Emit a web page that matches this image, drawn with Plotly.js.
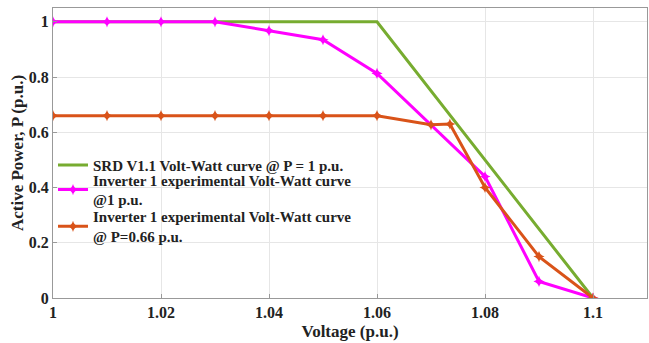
<!DOCTYPE html>
<html><head><meta charset="utf-8">
<script src="https://cdn.plot.ly/plotly-3.0.1.min.js"></script>
<style>body{margin:0;background:#fff}#chart{width:649px;height:343px}</style>
</head><body><div id="chart"></div>
<script>
const srdX = [1, 1.06, 1.1];
const srdY = [1, 1, 0];
const inv1X = [1, 1.01, 1.02, 1.03, 1.04, 1.05, 1.06, 1.08, 1.09, 1.1];
const inv1Y = [1, 1, 1, 1, 0.968, 0.935, 0.813, 0.44, 0.06, 0];
const inv066X = [1, 1.01, 1.02, 1.03, 1.04, 1.05, 1.06, 1.07, 1.0735, 1.08, 1.09, 1.1];
const inv066Y = [0.66, 0.66, 0.66, 0.66, 0.66, 0.66, 0.66, 0.627, 0.63, 0.40, 0.15, 0];
const names = [
  "SRD V1.1 Volt-Watt curve @ P = 1 p.u.",
  "Inverter 1 experimental Volt-Watt curve<br>@1 p.u.",
  "Inverter 1 experimental Volt-Watt curve<br>@ P=0.66 p.u."
];
const xTicks = [1, 1.02, 1.04, 1.06, 1.08, 1.1];
const xTickText = ["1", "1.02", "1.04", "1.06", "1.08", "1.1"];
const yTicks = [0, 0.2, 0.4, 0.6, 0.8, 1];
const yTickText = ["0", "0.2", "0.4", "0.6", "0.8", "1"];

const fam = "Liberation Serif";
const traces = [
  {x: srdX, y: srdY, name: names[0], mode: "lines", line: {color: "#77ac30", width: 3}, legend: "legend"},
  {x: inv1X, y: inv1Y, name: names[1], mode: "lines+markers", line: {color: "#ff00ff", width: 3},
   marker: {symbol: "star-diamond", size: 8, color: "#ff00ff"}, legend: "legend2"},
  {x: inv066X, y: inv066Y, name: names[2], mode: "lines+markers", line: {color: "#d95319", width: 3},
   marker: {symbol: "star-diamond", size: 8, color: "#d95319"}, legend: "legend3"}
];
const legFont = {family: fam, size: 15, color: "#222", weight: 700};
function leg(y) {
  return {x: 0, y: y, xanchor: "left", yanchor: "middle", bgcolor: "rgba(255,255,255,0)",
          font: legFont, itemwidth: 30};
}
const layout = {
  width: 649, height: 343,
  margin: {l: 53, r: 2, t: 8, b: 45},
  paper_bgcolor: "#fff", plot_bgcolor: "#fff",
  font: {family: fam, color: "#222", size: 16, weight: 700},
  showlegend: true,
  legend: leg(0.458),
  legend2: leg(0.374),
  legend3: leg(0.247),
  xaxis: {range: [1, 1.11], tickvals: xTicks, ticktext: xTickText, showgrid: true, gridcolor: "#e6e6e6",
          showline: true, linecolor: "#999", mirror: true, ticks: "inside", ticklen: 4, tickcolor: "#999",
          zeroline: false, tickfont: {family: fam, size: 16, weight: 700},
          title: {text: "Voltage (p.u.)", font: {family: fam, size: 17, weight: 700}, standoff: 4}},
  yaxis: {range: [0, 1.05], tickvals: yTicks, ticktext: yTickText, showgrid: true, gridcolor: "#e6e6e6",
          showline: true, linecolor: "#999", mirror: true, ticks: "inside", ticklen: 4, tickcolor: "#999",
          zeroline: false, tickfont: {family: fam, size: 16, weight: 700},
          title: {text: "Active Power, P (p.u.)", font: {family: fam, size: 17, weight: 700}, standoff: 0}}
};
Plotly.newPlot("chart", traces, layout, {displayModeBar: false, staticPlot: true});
</script></body></html>
